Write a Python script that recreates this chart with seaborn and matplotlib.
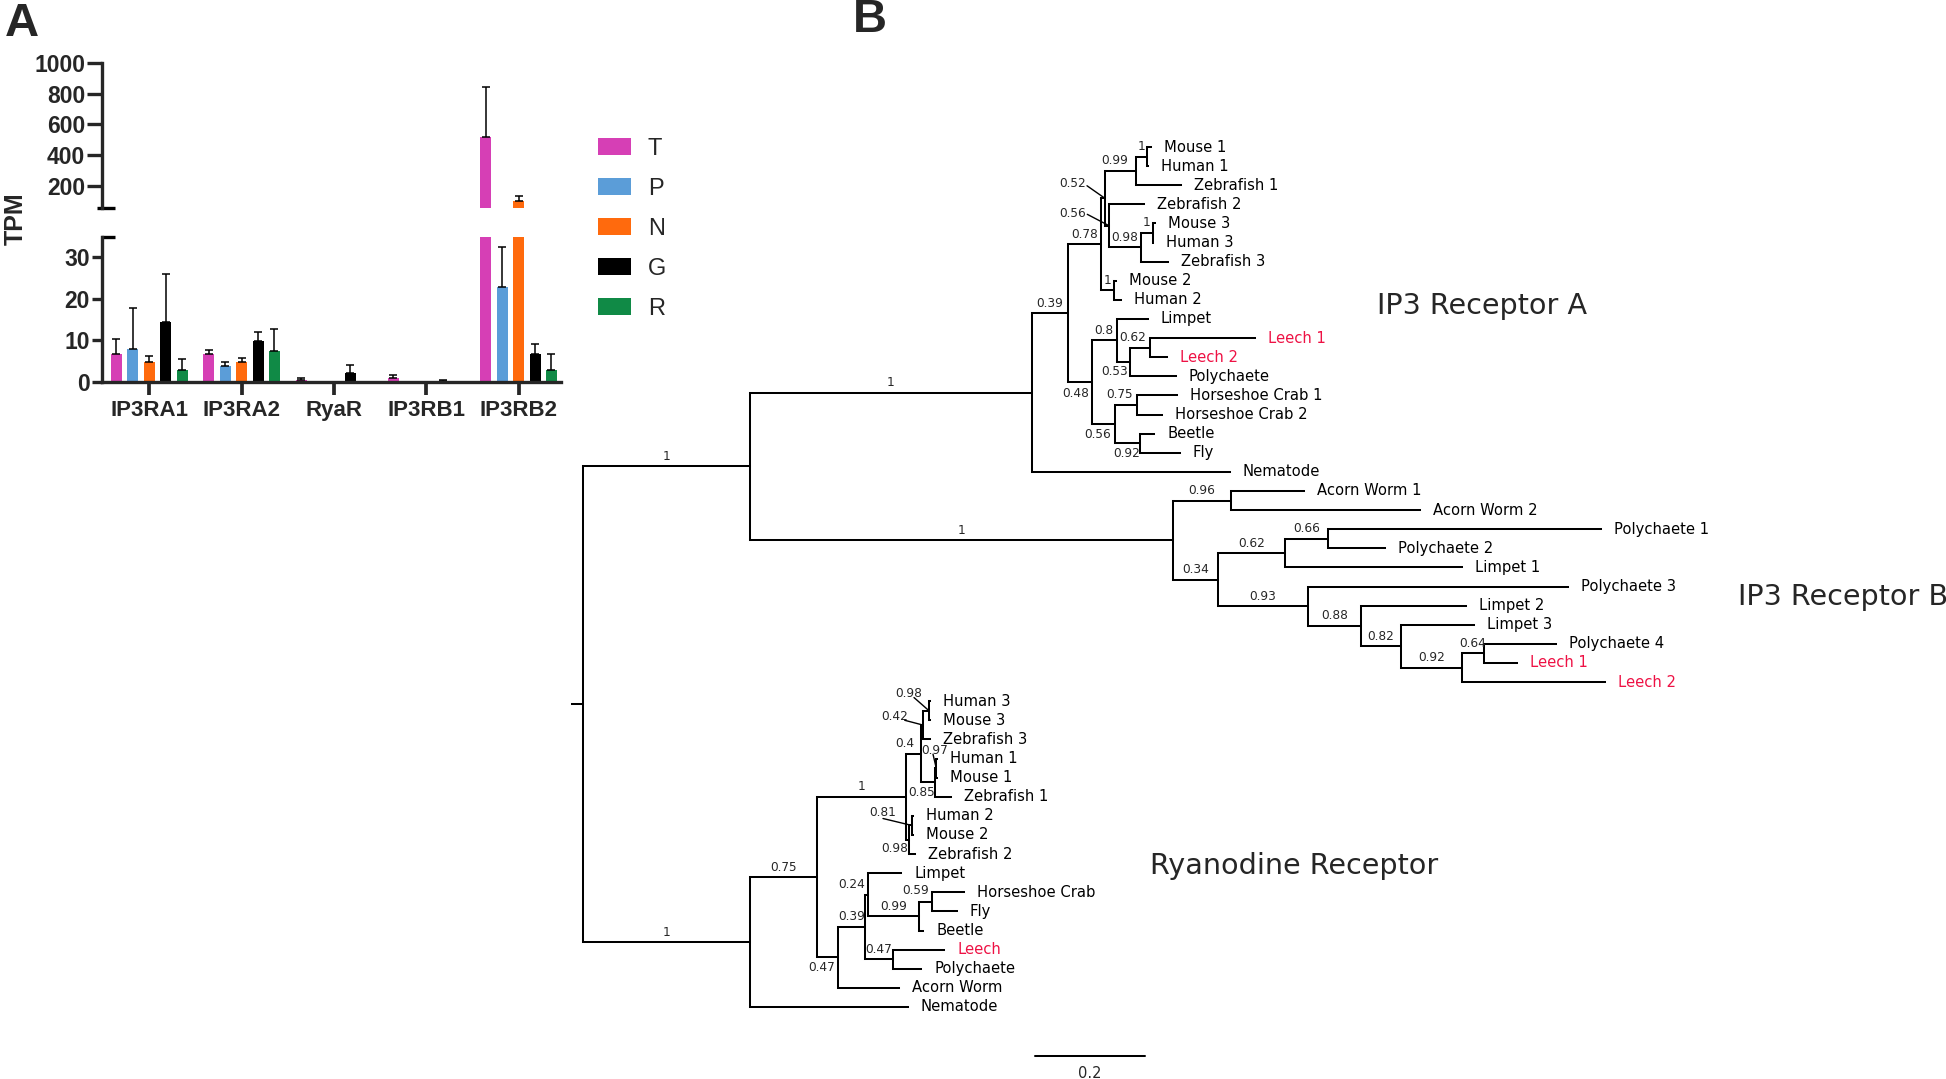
import numpy as np
import pandas as pd
import matplotlib
matplotlib.use("Agg")
import matplotlib.pyplot as plt
import seaborn as sns
from matplotlib.patches import Patch

# ---------------- Panel A data ----------------
genes = ["IP3RA1", "IP3RA2", "RyaR", "IP3RB1", "IP3RB2"]
tissues = ["T", "P", "N", "G", "R"]
tpm_T = [6.8, 6.8, 0.5, 0.8, 520]
tpm_P = [7.8, 3.8, 0.0, 0.0, 22.9]
tpm_N = [4.8, 4.8, 0.0, 0.1, 104.6]
tpm_G = [14.5, 9.8, 2.0, 0.2, 6.7]
tpm_R = [2.8, 7.4, 0.0, 0.0, 2.8]
err_T = [3.6, 0.8, 0.3, 0.8, 320]
err_P = [10.1, 1.0, 0.0, 0.0, 9.7]
err_N = [1.4, 0.8, 0.0, 0.0, 30.4]
err_G = [11.5, 2.3, 2.0, 0.3, 2.4]
err_R = [2.7, 5.3, 0.0, 0.0, 3.9]
tissue_colors = ["#d63fb5", "#5b9dd8", "#ff6a0d", "#000000", "#108a46"]
upper_ticks = [200, 400, 600, 800, 1000]
lower_ticks = [0, 10, 20, 30]

# ---------------- Panel B data (Newick, branch lengths + support) ----------------
ip3r_a = ("((((((Mouse 1:0.0062,Human 1:0.002)1:0.0211,Zebrafish 1:0.0824)0.99:0.0558,"
          "(Zebrafish 2:0.0631,((Mouse 3:0.0033,Human 3:0.001)1:0.0213,Zebrafish 3:0.0496)0.98:0.0576)0.56:0.0078)0.52:0.0064,"
          "(Mouse 2:0.003,Human 2:0.0116)1:0.0233)0.78:0.0604,"
          "((Limpet:0.0564,((Leech 1:0.1909,Leech 2:0.0304)0.62:0.0364,Polychaete:0.0831)0.53:0.0242)0.8:0.0455,"
          "((Horseshoe Crab 1:0.0738,Horseshoe Crab 2:0.0465)0.75:0.0395,(Beetle:0.0255,Fly:0.0727)0.92:0.0455)0.56:0.0424)0.48:0.0425)0.39:0.066,"
          "Nematode:0.36)")
ip3r_b = ("((Acorn Worm 1:0.1315,Acorn Worm 2:0.3424)0.96:0.106,"
          "(((Polychaete 1:0.496,Polychaete 2:0.103)0.66:0.0787,Limpet 1:0.3222)0.62:0.1216,"
          "(Polychaete 3:0.4727,(Limpet 2:0.1924,(Limpet 3:0.1329,((Polychaete 4:0.1298,Leech 1:0.0593)0.64:0.0407,"
          "Leech 2:0.26)0.92:0.1111)0.82:0.0731)0.88:0.0958)0.93:0.1638)0.34:0.0816)")
ryr = ("((((((Human 3:0.002,Mouse 3:0.002)0.98:0.0109,Zebrafish 3:0.0122)0.42:0.0042,"
       "((Human 1:0.002,Mouse 1:0.002)0.97:0.0018,Zebrafish 1:0.0291)0.85:0.0264)0.4:0.0273,"
       "((Human 2:0.002,Mouse 2:0.002)0.81:0.0049,Zebrafish 2:0.0104)0.98:0.006)1:0.1607,"
       "(((Limpet:0.0595,((Horseshoe Crab:0.0582,Fly:0.0444)0.59:0.0242,Beetle:0.0078)0.99:0.0922)0.24:0.006,"
       "(Leech:0.0933,Polychaete:0.0515)0.47:0.0504)0.39:0.0485,Acorn Worm:0.1109)0.47:0.0382)0.75:0.1224,"
       "Nematode:0.2867)")
tree_newick = f"(({ip3r_a}1:0.5127,{ip3r_b}1:0.769)1:0.3036,{ryr}1:0.3036):0.02;"
highlight = "Leech"
scale_bar = 0.2
clade_names = ["IP3 Receptor A", "IP3 Receptor B", "Ryanodine Receptor"]

# ---------------- style ----------------
sns.set_style("ticks")
plt.rcParams["font.family"] = ["DejaVu Sans"]
BAR_FONT = "Liberation Sans"
TREE_FONT = "DejaVu Sans"
W, H = 1946, 1079

fig = plt.figure(figsize=(W / 100, H / 100), dpi=100)

# ================= Panel B: tree =================
def parse_newick(s):
    s = s.strip().rstrip(";")
    pos = 0

    def node():
        nonlocal pos
        n = {"children": [], "name": "", "length": 0.0}
        if s[pos] == "(":
            pos += 1
            while True:
                n["children"].append(node())
                if s[pos] == ",":
                    pos += 1
                    continue
                if s[pos] == ")":
                    pos += 1
                    break
        st = pos
        while pos < len(s) and s[pos] not in ":,()":
            pos += 1
        n["name"] = s[st:pos].strip()
        if pos < len(s) and s[pos] == ":":
            pos += 1
            st = pos
            while pos < len(s) and s[pos] not in ",()":
                pos += 1
            n["length"] = float(s[st:pos])
        return n

    return node()


root = parse_newick(tree_newick)
leaves = []


def layout(n, parent_x):
    n["px"] = parent_x
    n["x"] = parent_x + n["length"]
    if n["children"]:
        for c in n["children"]:
            layout(c, n["x"])
        n["y"] = (n["children"][0]["y"] + n["children"][-1]["y"]) / 2
        n["first"] = n["children"][0]["first"]
        n["last"] = n["children"][-1]["last"]
    else:
        n["y"] = len(leaves)
        n["first"] = n["last"] = n["name"]
        leaves.append(n)


layout(root, -root["length"])

axT = fig.add_axes([0, 0, 1, 1])
axT.set_axis_off()
axT.patch.set_alpha(0)
ROOT_PX, UNIT_PX = 583.0, 550.0
LEAF0_PX, STEP_PX = 147.0, 19.11
axT.set_xlim(-ROOT_PX / UNIT_PX, (W - ROOT_PX) / UNIT_PX)
axT.set_ylim((H - LEAF0_PX) / STEP_PX, -LEAF0_PX / STEP_PX)

# support-label placement tweaks: ('above'|'below', dx, dy) or ('leader', text_offset, line_start)
label_pos = {
    ("Mouse 1", "Zebrafish 3", "0.52"): ("leader", (-32, 15), (-18, 12.6)),
    ("Zebrafish 2", "Zebrafish 3", "0.56"): ("leader", (-36.6, 12.5), (-22, 11.5)),
    ("Mouse 1", "Zebrafish 1", "0.99"): ("above", -6, 10),
    ("Leech 1", "Leech 2", "0.62"): ("above", -7, 10),
    ("Leech 1", "Polychaete", "0.53"): ("below", -9, -10),
    ("Limpet", "Fly", "0.48"): ("below", -4, -11),
    ("Horseshoe Crab 1", "Fly", "0.56"): ("below", -6, -10),
    ("Horseshoe Crab 1", "Horseshoe Crab 2", "0.75"): ("above", -6, 10),
    ("Beetle", "Fly", "0.92"): ("below", -1, -10),
    ("Human 3", "Mouse 3", "0.98"): ("leader", (-20, 17.2), (-15, 13.2)),
    ("Human 3", "Zebrafish 3", "0.42"): ("leader", (-28.3, 8.8), (-18.3, 4.8)),
    ("Human 1", "Mouse 1", "0.97"): ("leader", (-1.5, 17.9), (-3.2, 13.9)),
    ("Human 2", "Mouse 2", "0.81"): ("leader", (-28.7, 12.5), (-28.7, 6.9)),
    ("Human 3", "Zebrafish 1", "0.4"): ("above", -8.5, 10),
    ("Human 1", "Zebrafish 1", "0.85"): ("below", -6.5, -10.5),
    ("Human 2", "Zebrafish 2", "0.98"): ("below", -12.6, -9),
    ("Limpet", "Beetle", "0.24"): ("above", -15, 10),
    ("Horseshoe Crab", "Fly", "0.59"): ("above", -10, 11.5),
    ("Limpet", "Acorn Worm", "0.47"): ("below", -6, -10),
}

LW = 1.45
SUP_FS = 8.7
LEAF_FS = 10.6


def draw(n):
    axT.plot([n["px"], n["x"]], [n["y"], n["y"]], color="black", lw=LW,
             solid_capstyle="projecting")
    if n["children"]:
        axT.plot([n["x"], n["x"]], [n["children"][0]["y"], n["children"][-1]["y"]],
                 color="black", lw=LW, solid_capstyle="projecting")
        for c in n["children"]:
            draw(c)
        if n["name"]:
            spec = label_pos.get((n["first"], n["last"], n["name"]), ("above", 0, 10))
            if spec[0] == "leader":
                axT.annotate(n["name"], xy=(n["x"], n["y"]), xytext=spec[1],
                             textcoords="offset pixels", ha="center", va="center",
                             fontsize=SUP_FS, family=TREE_FONT)
                axT.annotate("", xy=(n["x"], n["y"]), xytext=spec[2],
                             textcoords="offset pixels",
                             arrowprops=dict(arrowstyle="-", lw=1.0, color="black",
                                             shrinkA=0, shrinkB=0))
            else:
                axT.annotate(n["name"], xy=((n["px"] + n["x"]) / 2, n["y"]),
                             xytext=(spec[1], spec[2]), textcoords="offset pixels",
                             ha="center", va="center", fontsize=SUP_FS, family=TREE_FONT)
    else:
        col = "#ee1144" if n["name"].startswith(highlight) else "black"
        axT.annotate(n["name"], xy=(n["x"], n["y"]), xytext=(13, 0),
                     textcoords="offset pixels", ha="left", va="center",
                     fontsize=LEAF_FS, color=col, family=TREE_FONT)


draw(root)

# scale bar
sb_x0, sb_y = 0.822, 47.55
axT.plot([sb_x0, sb_x0 + scale_bar], [sb_y, sb_y], color="black", lw=LW)
axT.text(sb_x0 + scale_bar / 2, sb_y + 0.95, f"{scale_bar}", ha="center", va="center",
         fontsize=10.5, family=TREE_FONT)

# clade names
fig.text(1482 / W, 1 - 306.5 / H, clade_names[0], ha="center", va="center",
         fontsize=20.6, family=TREE_FONT)
fig.text(1738 / W, 1 - 597 / H, clade_names[1], ha="left", va="center",
         fontsize=20.6, family=TREE_FONT)
fig.text(1150 / W, 1 - 866 / H, clade_names[2], ha="left", va="center",
         fontsize=20.6, family=TREE_FONT)

# ================= Panel A: broken-axis bar chart =================
rows = []
for t, vals in zip(tissues, [tpm_T, tpm_P, tpm_N, tpm_G, tpm_R]):
    for g, v in zip(genes, vals):
        rows.append({"gene": g, "tissue": t, "tpm": v})
df = pd.DataFrame(rows)
errs = {"T": err_T, "P": err_P, "N": err_N, "G": err_G, "R": err_R}
means = {"T": tpm_T, "P": tpm_P, "N": tpm_N, "G": tpm_G, "R": tpm_R}

axL_px = 101.8
axR_px = 561.0
lower = fig.add_axes([axL_px / W, 1 - 381.7 / H, (axR_px - axL_px) / W, 145 / H])
upper = fig.add_axes([axL_px / W, 1 - 208.3 / H, (axR_px - axL_px) / W, 145.6 / H])

SPINE = 2.4
for ax, lim in [(lower, (0, 35)), (upper, (55, 1000))]:
    sns.barplot(data=df, x="gene", y="tpm", hue="tissue", order=genes, hue_order=tissues,
                palette=tissue_colors, width=0.89, gap=0.33, errorbar=None,
                saturation=1, legend=False, ax=ax)
    patches = sorted(ax.patches, key=lambda p: p.get_x())
    xs, ys, es = [], [], []
    k = 0
    for gi in range(len(genes)):
        for t in tissues:
            p = patches[k]
            k += 1
            p.set_linewidth(0)
            e = errs[t][gi]
            if e > 0:
                xs.append(p.get_x() + p.get_width() / 2)
                ys.append(means[t][gi])
                es.append(e)
    es = np.array(es)
    ax.errorbar(xs, ys, yerr=[np.zeros_like(es), es], fmt="none", ecolor="black",
                elinewidth=1.1, capsize=2.6, capthick=1.1, zorder=1)
    ax.set_xlim(-0.514, 4.459)
    ax.set_ylim(*lim)
    ax.set_xlabel("")
    ax.set_ylabel("")
    ax.patch.set_alpha(0)
    for s in ["top", "right"]:
        ax.spines[s].set_visible(False)
    ax.spines["left"].set_linewidth(SPINE)
    ax.spines["bottom"].set_linewidth(SPINE)

lower.set_yticks(lower_ticks)
lower.tick_params(axis="y", length=7, width=SPINE, pad=1.5, labelsize=16.5)
lower.tick_params(axis="x", length=9.5, width=2.7, pad=4, labelsize=16)
upper.set_yticks(upper_ticks)
upper.tick_params(axis="y", length=11, width=SPINE, pad=1, labelsize=16.5)
upper.spines["bottom"].set_visible(False)
upper.set_xticks([])
for ax in (lower, upper):
    for lab in ax.get_xticklabels() + ax.get_yticklabels():
        lab.set_fontfamily(BAR_FONT)
        lab.set_fontweight("bold")
# break caps
upper.plot([-0.011, 0.028], [0, 0], transform=upper.transAxes, color="black",
           lw=SPINE, clip_on=False, solid_capstyle="butt")
lower.plot([-0.002, 0.028], [1, 1], transform=lower.transAxes, color="black",
           lw=SPINE, clip_on=False, solid_capstyle="butt")

fig.text(15.5 / W, 1 - 219 / H, "TPM", rotation=90, ha="center", va="center",
         fontsize=18, fontweight="bold", family=BAR_FONT)

handles = [Patch(facecolor=c, edgecolor="none") for c in tissue_colors]
fig.legend(handles, tissues, loc="upper left", bbox_to_anchor=(598.3 / W, 1 - 138 / H),
           bbox_transform=fig.transFigure, frameon=False,
           prop={"family": BAR_FONT, "size": 17}, handlelength=1.37, handleheight=0.71,
           handletextpad=0.73, labelspacing=0.76, borderpad=0, borderaxespad=0)

# panel letters
fig.text(5 / W, 1 - 2 / H, "A", ha="left", va="top", fontsize=34, fontweight="bold",
         family=BAR_FONT)
fig.text(853 / W, 1 + 2 / H, "B", ha="left", va="top", fontsize=34, fontweight="bold",
         family=BAR_FONT)

fig.savefig("out.png", dpi=100, facecolor="white")
